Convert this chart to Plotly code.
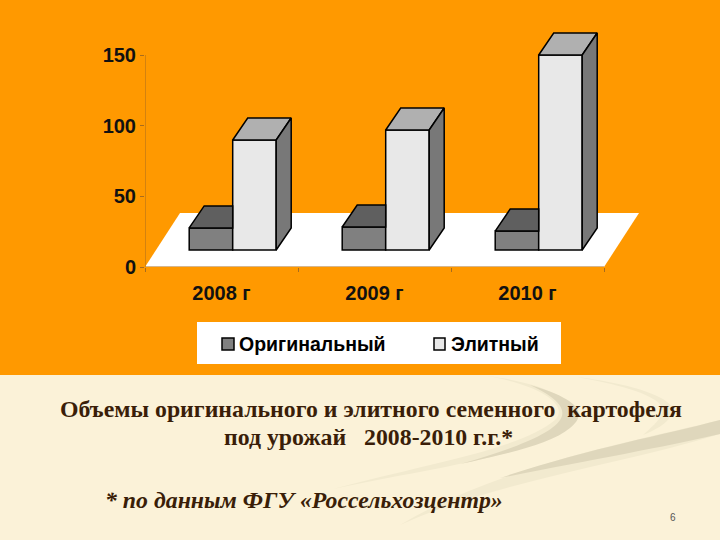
import plotly.graph_objects as go

years = ['2008 г', '2009 г', '2010 г']
original = [15.6, 16.3, 13.4]
elite = [77.8, 84.9, 138]
y_ticks = [0, 50, 100, 150]

ORANGE = '#FF9900'
CREAM = '#FBF2D8'
SWOOSH_LIGHT = '#F2EACF'
SWOOSH_DARK = '#DFD7BC'
AXIS = '#A86C1E'
TEXT_BROWN = '#3A1E08'
SANS = 'Liberation Sans, Arial'
SERIF = 'Liberation Serif, DejaVu Serif, serif'

W, H = 720, 540
# pixel box of the plot area, the extra room holds the 3d floor and bar tops
LEFT, RIGHT, TOP, BOTTOM = 145, 640, 30, 267
PX_PER_CAT = 153.0
PX_PER_UNIT = 212 / 150

x_max = (RIGHT - LEFT) / PX_PER_CAT - 0.5
y_max = (BOTTOM - TOP) / PX_PER_UNIT

# oblique offsets of the fake 3d in data units
bar_dx = 15 / PX_PER_CAT
bar_dy = 22 / PX_PER_UNIT
floor_dx = 35 / PX_PER_CAT
floor_dy = 54 / PX_PER_UNIT
base = 17 / PX_PER_UNIT
shift = 11.2 / PX_PER_CAT
bar_w = 43.5 / PX_PER_CAT


def px_x(v):
    return v / W


def px_y(v):
    return 1 - v / H


def swoosh(color, start, *curves):
    # background decoration, points are page pixels, path goes in paper coordinates
    path = f'M {px_x(start[0]):.4f},{px_y(start[1]):.4f}'
    for c in curves:
        pairs = [f'{px_x(c[i]):.4f},{px_y(c[i + 1]):.4f}' for i in range(0, len(c), 2)]
        path += ' C ' + ' '.join(pairs)
    return dict(type='path', xref='paper', yref='paper', layer='below', line_width=0,
                fillcolor=color, path=path + ' Z')


fig = go.Figure()

x_orig = [i - bar_w / 2 + shift for i in range(len(years))]
x_elite = [i + bar_w / 2 + shift for i in range(len(years))]

fig.add_trace(go.Bar(
    x=x_orig, y=original, base=base, width=bar_w, name='Оригинальный', showlegend=False,
    marker=dict(color='#808080', line=dict(color='black', width=1.5))
))
fig.add_trace(go.Bar(
    x=x_elite, y=elite, base=base, width=bar_w, name='Элитный', showlegend=False,
    marker=dict(color='#E8E8E8', line=dict(color='black', width=1.5))
))


def face(xs, ys, color):
    fig.add_trace(go.Scatter(
        x=xs, y=ys, mode='lines', fill='toself', fillcolor=color,
        line=dict(color='black', width=1.5), showlegend=False, hoverinfo='skip'
    ))


for i in range(len(years)):
    # top of the short bar stops at the front of the tall one
    x0 = x_orig[i] - bar_w / 2
    x1 = x_orig[i] + bar_w / 2
    t = base + original[i]
    face([x0, x1, x1, x0 + bar_dx, x0], [t, t, t + bar_dy, t + bar_dy, t], '#5F5F5F')

    x0 = x_elite[i] - bar_w / 2
    x1 = x_elite[i] + bar_w / 2
    t = base + elite[i]
    face([x0, x1, x1 + bar_dx, x0 + bar_dx, x0], [t, t, t + bar_dy, t + bar_dy, t], '#B0B0B0')
    face([x1, x1 + bar_dx, x1 + bar_dx, x1, x1], [base, base + bar_dy, t + bar_dy, t, base], '#787878')

# axis lines stop short of the floor overhang
fig.add_trace(go.Scatter(
    x=[-0.5, -0.5, 2.5], y=[150, 0, 0], mode='lines',
    line=dict(color=AXIS, width=1), showlegend=False, hoverinfo='skip'
))

shapes = [
    dict(type='rect', xref='paper', yref='paper', x0=0, x1=1, y0=px_y(375), y1=1,
         fillcolor=ORANGE, line_width=0, layer='below'),
    swoosh(SWOOSH_LIGHT, (487, 376), (560, 385, 590, 410, 570, 425), (540, 455, 420, 470, 333, 489),
           (420, 465, 520, 450, 555, 420), (570, 405, 540, 385, 487, 376)),
    swoosh(SWOOSH_DARK, (530, 385), (575, 398, 590, 412, 570, 428), (550, 445, 500, 455, 460, 464),
           (510, 450, 550, 435, 560, 420), (568, 408, 555, 397, 530, 385)),
    swoosh(SWOOSH_LIGHT, (577, 377), (640, 385, 680, 400, 672, 415), (665, 425, 655, 430, 643, 435),
           (660, 420, 670, 410, 655, 400), (640, 390, 610, 383, 577, 377)),
    swoosh(SWOOSH_LIGHT, (720, 420), (640, 440, 500, 465, 400, 525), (500, 480, 620, 465, 720, 434)),
    swoosh(SWOOSH_DARK, (720, 420), (660, 436, 590, 448, 500, 478), (590, 460, 660, 448, 720, 434)),
    # floor
    dict(type='path', xref='x', yref='y', layer='below', line_width=0, fillcolor='white',
         path=f'M -0.5,0 L 2.5,0 L {2.5 + floor_dx:.4f},{floor_dy:.4f} L {-0.5 + floor_dx:.4f},{floor_dy:.4f} Z'),
    # legend box and swatches
    dict(type='rect', xref='paper', yref='paper', x0=px_x(197), x1=px_x(561), y0=px_y(364), y1=px_y(322),
         fillcolor='white', line_width=0, layer='below'),
    dict(type='rect', xref='paper', yref='paper', x0=px_x(222), x1=px_x(234), y0=px_y(350), y1=px_y(338),
         fillcolor='#808080', line=dict(color='black', width=1.5), layer='below'),
    dict(type='rect', xref='paper', yref='paper', x0=px_x(434), x1=px_x(445), y0=px_y(350), y1=px_y(338),
         fillcolor='#E8E8E8', line=dict(color='black', width=1.5), layer='below'),
]

annotations = [
    dict(text='<b>Объемы оригинального и элитного семенного  картофеля</b>', x=px_x(371), y=px_y(409),
         font=dict(family=SERIF, size=23.8, color=TEXT_BROWN)),
    dict(text='<b>под урожай   2008-2010 г.г.*</b>', x=px_x(368), y=px_y(437),
         font=dict(family=SERIF, size=23.8, color=TEXT_BROWN)),
    dict(text='<b><i>* по данным ФГУ «Россельхозцентр»</i></b>', x=px_x(304), y=px_y(500),
         font=dict(family=SERIF, size=23.8, color=TEXT_BROWN)),
    dict(text='6', x=px_x(673), y=px_y(517), font=dict(family='Liberation Sans', size=10, color='#555555')),
    dict(text='<b>Оригинальный</b>', x=px_x(237), y=px_y(344), xanchor='left',
         font=dict(family=SANS, size=19.5, color='black')),
    dict(text='<b>Элитный</b>', x=px_x(449), y=px_y(344), xanchor='left',
         font=dict(family=SANS, size=19.5, color='black')),
]
for a in annotations:
    a.setdefault('xanchor', 'center')
    a.update(xref='paper', yref='paper', showarrow=False, yanchor='middle')

fig.update_layout(
    width=W, height=H,
    margin=dict(l=0, r=0, t=0, b=0, autoexpand=False),
    paper_bgcolor=CREAM,
    plot_bgcolor='rgba(0,0,0,0)',
    barmode='overlay',
    showlegend=False,
    shapes=shapes,
    annotations=annotations,
    xaxis=dict(
        domain=[px_x(LEFT), px_x(RIGHT)], range=[-0.5, x_max],
        tickvals=list(range(len(years))), ticktext=years, ticks='',
        showgrid=False, showline=False, zeroline=False, ticklabelstandoff=12,
        tickfont=dict(family=SANS, size=20, color='#111111', weight=700),
        minor=dict(tickvals=[-0.5, 0.5, 1.5, 2.5], ticks='outside', ticklen=4, tickcolor=AXIS, showgrid=False)
    ),
    yaxis=dict(
        domain=[px_y(BOTTOM), px_y(TOP)], range=[0, y_max],
        tickvals=y_ticks, ticks='outside', ticklen=4, tickcolor=AXIS,
        showgrid=False, showline=False, zeroline=False,
        tickfont=dict(family=SANS, size=20, color='#111111', weight=700)
    ),
)

fig.write_html('out.html', config=dict(displayModeBar=False), post_script="document.body.style.margin='0';")
